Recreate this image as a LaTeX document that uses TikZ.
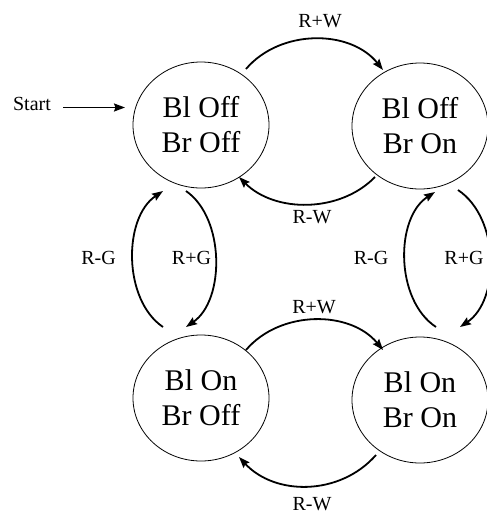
\documentclass[tikz,border=0pt]{standalone}
\usepackage{fontspec}
\setmainfont{Liberation Serif}
\usetikzlibrary{shapes.geometric,arrows.meta,calc}
\begin{document}
\begin{tikzpicture}[x=1pt,y=-1pt,
  state/.style={draw,line width=0.8pt,ellipse,minimum width=136pt,minimum height=126pt,inner sep=0pt,align=center,font=\fontsize{30}{35}\selectfont},
  lbl/.style={font=\fontsize{20}{24}\selectfont,inner sep=0pt},
  trans/.style={line width=1.8pt,-{Stealth[length=11pt,width=8pt,inset=1.5pt]}}]
\useasboundingbox (0,0) rectangle (487,515);
\node[state] (tl) at (201,125) {Bl Off\\Br Off};
\node[state] (tr) at (420,126) {Bl Off\\Br On};
\node[state] (bl) at (201,398) {Bl On\\Br Off};
\node[state] (br) at (420,400) {Bl On\\Br On};
\node[lbl] (start) at (32,104) {Start};
\coordinate (startend) at (63,107.5);
\draw[trans] (startend) -- ($(tl)+(-76,-17.5)$);
% top row
\draw[trans] ($(tl)+(45,-56)$) .. controls (280,29) and (350,29) .. ($(tr)+(-37,-56)$);
\draw[trans] ($(tr)+(-45,51)$) .. controls (340,213) and (275,213) .. ($(tl)+(38,52)$);
% bottom row
\draw[trans] ($(bl)+(45,-48)$) .. controls (280,310) and (350,310) .. ($(br)+(-37,-50)$);
\draw[trans] ($(br)+(-44,55)$) .. controls (340,496) and (275,496) .. ($(bl)+(38,59)$);
% left column
\draw[trans] ($(bl)+(-38,-71)$) .. controls (123,300) and (123,218) .. ($(tl)+(-38,66)$);
\draw[trans] ($(tl)+(-15,66)$) .. controls (225,218) and (225,300) .. ($(bl)+(-15,-71)$);
% right column
\draw[trans] ($(br)+(16,-73)$) .. controls (395,300) and (395,218) .. ($(tr)+(15,66)$);
\draw[trans] ($(tr)+(38,64)$) .. controls (500,218) and (500,300) .. ($(br)+(40,-73)$);
% labels
\node[lbl] at (320,21) {R+W};
\node[lbl] at (312,217) {R-W};
\node[lbl] at (314,307) {R+W};
\node[lbl] at (312,504) {R-W};
\node[lbl] at (98.5,258) {R-G};
\node[lbl] at (191.5,258) {R+G};
\node[lbl] at (371,258) {R-G};
\node[lbl] at (464,258) {R+G};
\end{tikzpicture}
\end{document}
